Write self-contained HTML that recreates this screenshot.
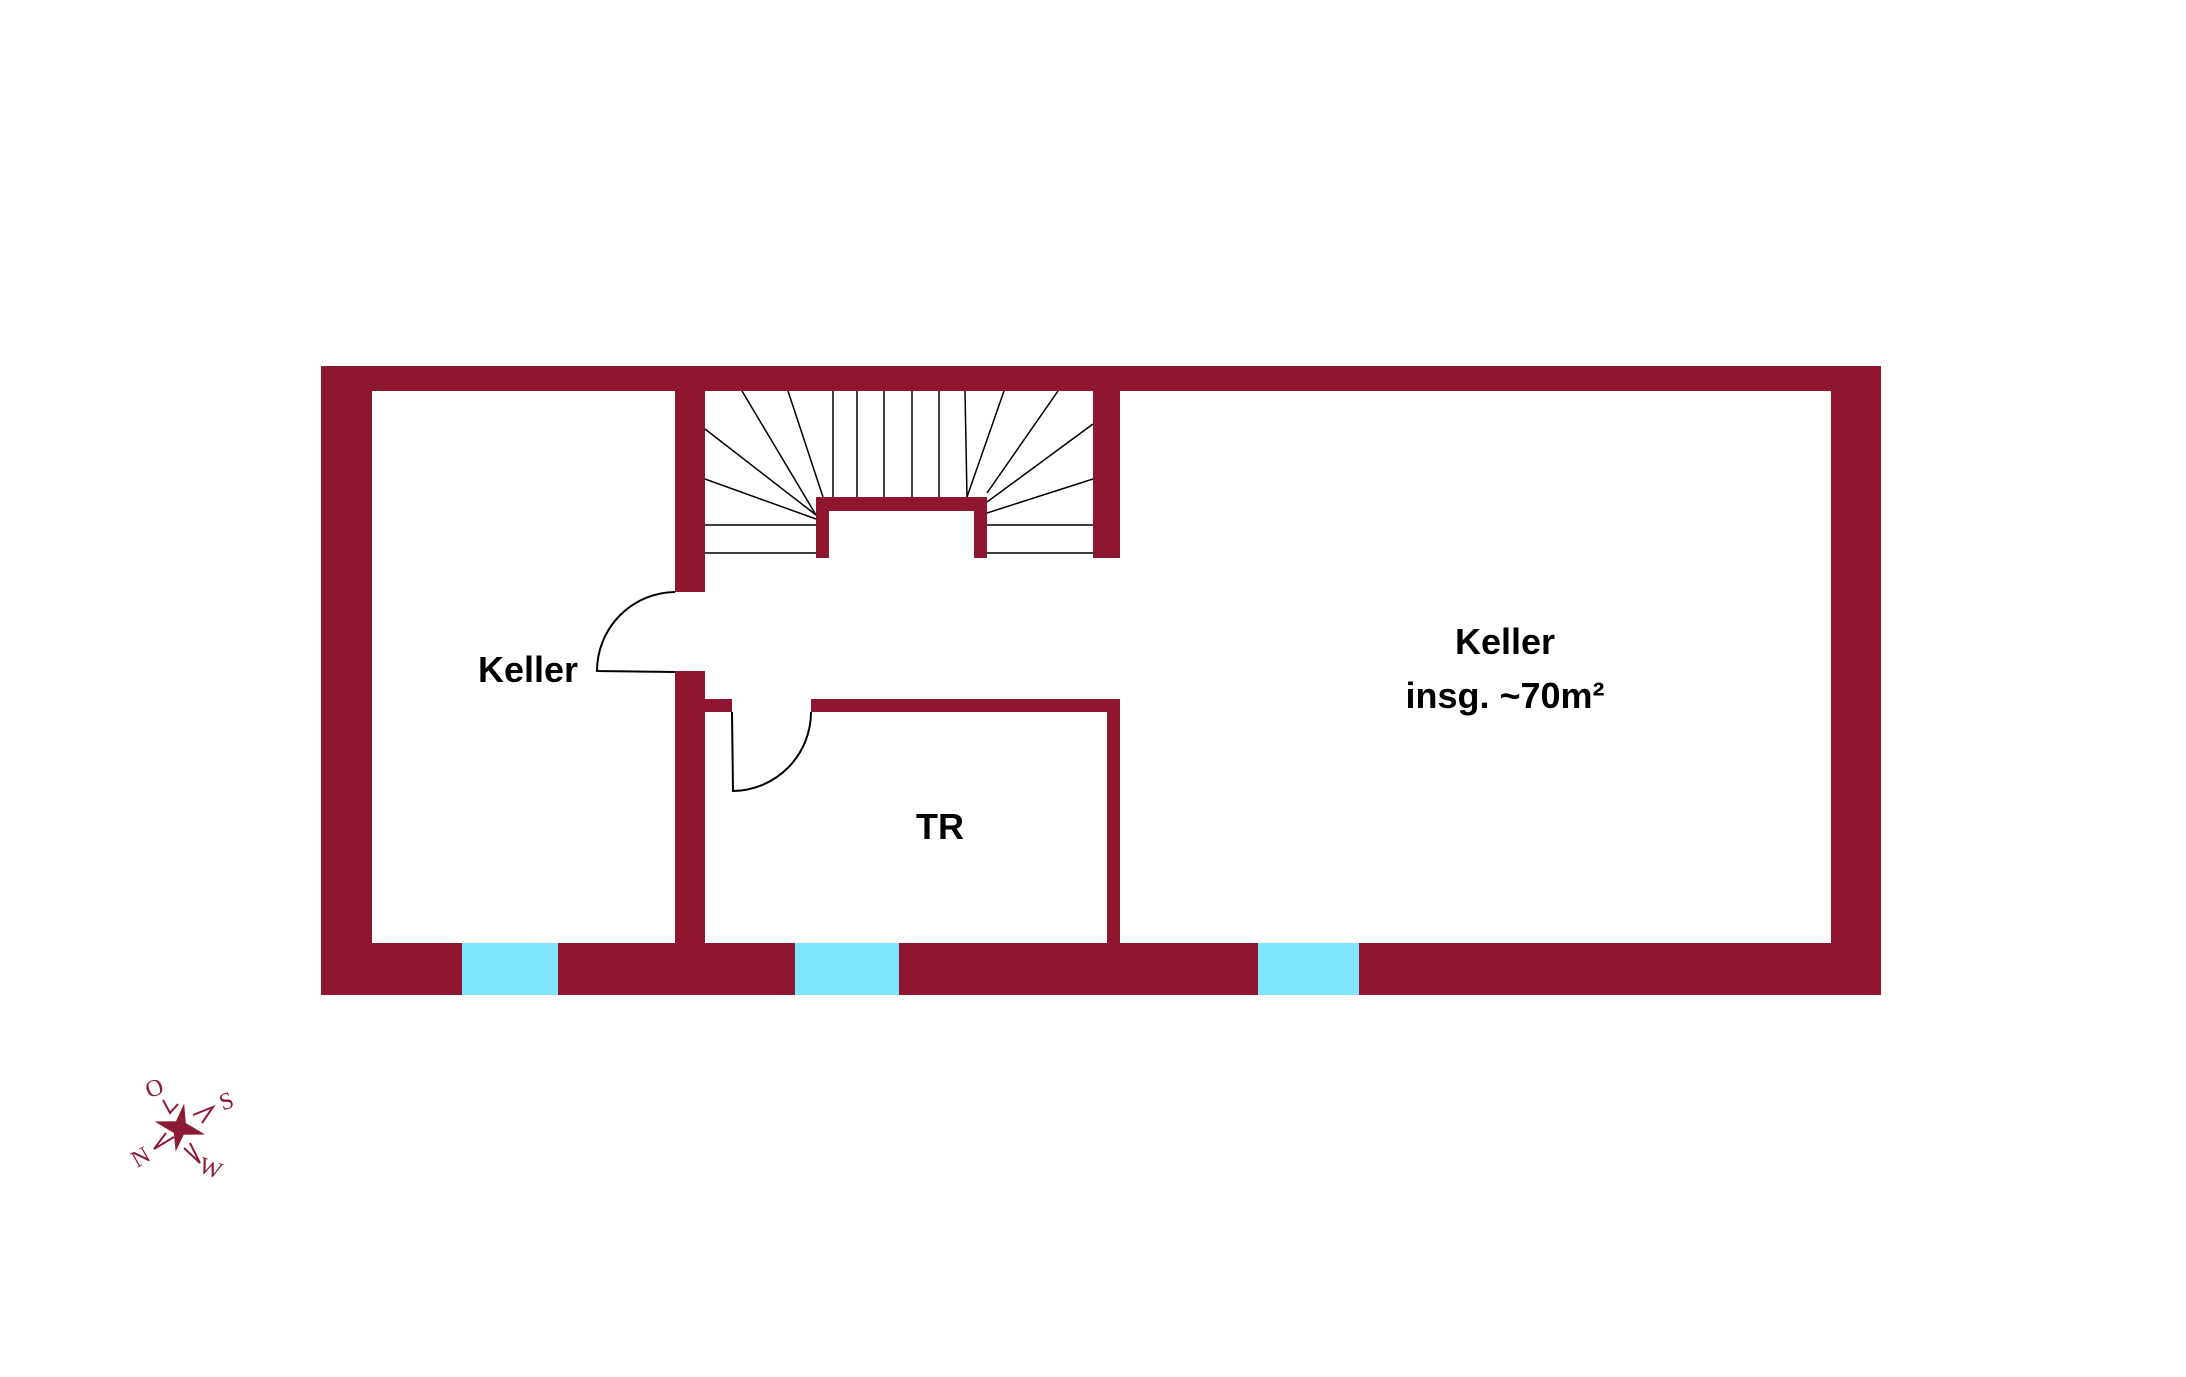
<!DOCTYPE html>
<html><head><meta charset="utf-8"><style>
html,body{margin:0;padding:0;background:#fff;}
svg{display:block;}
text{font-family:"Liberation Sans",sans-serif;font-weight:bold;fill:#000;}
</style></head><body>
<svg width="2186" height="1377" viewBox="0 0 2186 1377" xmlns="http://www.w3.org/2000/svg">
<g fill="#8E1631">
<rect x="321" y="366" width="1560" height="25"/>
<rect x="321" y="366" width="51" height="629"/>
<rect x="1831" y="366" width="50" height="629"/>
<rect x="321" y="943" width="1560" height="52"/>
<rect x="675" y="380" width="30" height="212"/>
<rect x="675" y="671" width="30" height="290"/>
<rect x="1093" y="380" width="27" height="178"/>
<rect x="816" y="497" width="171" height="14"/>
<rect x="816" y="497" width="13" height="61"/>
<rect x="974" y="497" width="13" height="61"/>
<rect x="705" y="699" width="27" height="13"/>
<rect x="811" y="699" width="309" height="13"/>
<rect x="1107" y="699" width="13" height="250"/>
</g>
<g fill="#80E5FF">
<rect x="462" y="943" width="96" height="52"/>
<rect x="795" y="943" width="104" height="52"/>
<rect x="1258" y="943" width="101" height="52"/>
</g>
<g stroke="#000" stroke-width="1.5" fill="none">
<line x1="742" y1="391" x2="816" y2="515"/>
<line x1="788" y1="391" x2="823" y2="497"/>
<line x1="833" y1="391" x2="833" y2="497"/>
<line x1="857" y1="391" x2="857" y2="497"/>
<line x1="884" y1="391" x2="884" y2="497"/>
<line x1="912" y1="391" x2="912" y2="497"/>
<line x1="939" y1="391" x2="939" y2="497"/>
<line x1="965" y1="391" x2="967" y2="497"/>
<line x1="1004" y1="391" x2="967" y2="497"/>
<line x1="1058" y1="391" x2="987" y2="493"/>
<line x1="705" y1="429" x2="816" y2="515"/>
<line x1="705" y1="479" x2="816" y2="519"/>
<line x1="1093" y1="424" x2="987" y2="502"/>
<line x1="1093" y1="479" x2="987" y2="513"/>
<line x1="705" y1="525" x2="816" y2="525"/>
<line x1="705" y1="553" x2="816" y2="553"/>
<line x1="987" y1="525" x2="1093" y2="525"/>
<line x1="987" y1="553" x2="1093" y2="553"/>
<path d="M675 592 A79 79 0 0 0 597 671 L675 672" stroke-width="2"/>
<path d="M811 712 A79 79 0 0 1 733 791 L732 712" stroke-width="2"/>
</g>
<text x="528" y="682" font-size="36" text-anchor="middle">Keller</text>
<text x="1505" y="654" font-size="36" text-anchor="middle">Keller</text>
<text x="1505" y="708" font-size="36" text-anchor="middle">insg. ~70m²</text>
<text x="940" y="839" font-size="36" text-anchor="middle">TR</text>
<g fill="#8B1A35" stroke="none">
<polygon points="180,1103 185,1122 206,1130 185,1134 180,1152 175,1134 154,1126 175,1122" transform="rotate(10 180 1127)"/>
</g>
<g stroke="#8B1A35" stroke-width="2" fill="none">
<polyline points="163,1100 170,1113 178,1104"/>
<polyline points="193,1115 213,1107 202,1123"/>
<polyline points="174,1137 154,1149 166,1133"/>
<polyline points="190,1143 200,1163 184,1148"/>
</g>
<g>
<text x="154" y="1096" font-size="24" text-anchor="middle" style="font-family:'Liberation Serif',serif;font-weight:normal;fill:#8B1A35" transform="rotate(-20 154 1087)">O</text>
<text x="226" y="1109" font-size="24" text-anchor="middle" style="font-family:'Liberation Serif',serif;font-weight:normal;fill:#8B1A35" transform="rotate(-20 226 1100)">S</text>
<text x="140" y="1165" font-size="24" text-anchor="middle" style="font-family:'Liberation Serif',serif;font-weight:normal;fill:#8B1A35" transform="rotate(-30 140 1156)">N</text>
<text x="211" y="1176" font-size="24" text-anchor="middle" style="font-family:'Liberation Serif',serif;font-weight:normal;fill:#8B1A35" transform="rotate(20 211 1167)">W</text>
</g>
</svg>
</body></html>
